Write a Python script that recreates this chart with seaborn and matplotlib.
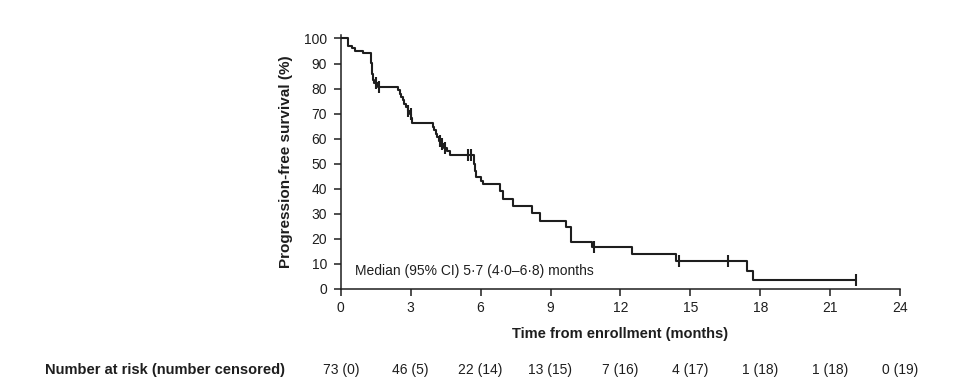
import matplotlib
matplotlib.use('Agg')
import matplotlib.pyplot as plt
import matplotlib.transforms as mtransforms
import seaborn as sns

# Kaplan-Meier steps (months, % progression-free)
step_times = [0, 0.3, 0.5, 0.6, 0.95, 1.3, 1.35, 1.4, 1.43, 1.6,
              2.45, 2.55, 2.6, 2.68, 2.72, 2.8, 2.88, 2.95, 3.0, 3.05,
              3.95, 4.0, 4.08, 4.15, 4.2, 4.3, 4.42, 4.55, 4.68,
              5.7, 5.75, 5.82, 6.0, 6.1, 6.85, 6.97, 7.4, 8.2, 8.55,
              9.68, 9.9, 10.76, 12.5, 14.38, 17.45, 17.67, 22.1]
step_surv = [100, 97, 96, 95, 94, 90.4, 86, 83.5, 82.2, 80.8,
             79.4, 78, 76.7, 75.3, 73.9, 72.5, 71.1, 69.7, 68.3, 66.2,
             64.8, 63.4, 62, 60.6, 59.2, 57.8, 56.4, 55, 53.4,
             50, 47, 44.6, 43.2, 41.8, 39, 35.8, 33.2, 30.5, 27.2,
             24.6, 18.6, 16.9, 13.9, 11.3, 7.2, 3.4, 3.4]

# censored observations
censor_times = [1.5, 1.65, 2.9, 3.0, 4.25, 4.35, 4.48, 5.45, 5.6, 10.85, 14.5, 16.62, 22.1]
censor_surv = [82.2, 80.8, 71.1, 69.7, 59.2, 57.8, 56.4, 53.4, 53.4, 16.9, 11.3, 11.3, 3.4]

xticks = [0, 3, 6, 9, 12, 15, 18, 21, 24]
yticks = [0, 10, 20, 30, 40, 50, 60, 70, 80, 90, 100]
at_risk = ['73 (0)', '46 (5)', '22 (14)', '13 (15)', '7 (16)', '4 (17)', '1 (18)', '1 (18)', '0 (19)']

sns.set_theme(style='ticks')
plt.rcParams['font.family'] = ['Liberation Sans', 'DejaVu Sans']

ink = '#1e1e1e'
fig = plt.figure(figsize=(9.6, 3.9), dpi=100)
ax = fig.add_axes([0.355, 0.259, 0.5825, 0.652])

sns.lineplot(x=step_times, y=step_surv, drawstyle='steps-post', estimator=None,
             color=ink, linewidth=1.5, ax=ax)
sns.scatterplot(x=censor_times, y=censor_surv, marker='|', s=80, linewidth=1.5,
                color=ink, ax=ax, zorder=3)

ax.set_xlim(0, 24)
ax.set_ylim(0, 101.5)
ax.set_xticks(xticks)
ax.set_yticks(yticks)
ax.tick_params(axis='both', direction='out', length=5, width=1.1, color=ink,
               labelsize=10, labelcolor=ink)
ax.tick_params(axis='x', pad=4)
ax.tick_params(axis='y', pad=5)
sns.despine(ax=ax)
for side in ['left', 'bottom']:
    ax.spines[side].set_color(ink)
    ax.spines[side].set_linewidth(1.1)

ax.set_xlabel('Time from enrollment (months)', fontsize=10.5, fontweight='bold',
              color=ink, labelpad=8)
ax.set_ylabel('Progression-free survival (%)', fontsize=11, fontweight='bold',
              color=ink, labelpad=8)

ax.text(0.6, 7.3, 'Median (95% CI) 5·7 (4·0–6·8) months', fontsize=10,
        color=ink, va='center', ha='left')

# number at risk row
trans = mtransforms.blended_transform_factory(ax.transData, fig.transFigure)
row_y = 1 - 370 / 390
for t, lab in zip(xticks, at_risk):
    ax.text(t, row_y, lab, transform=trans, ha='center', va='center',
            fontsize=10, color=ink, clip_on=False)
fig.text(285 / 960, row_y, 'Number at risk (number censored)', ha='right',
         va='center', fontsize=10.5, fontweight='bold', color=ink)

fig.savefig('out.png', dpi=100)
